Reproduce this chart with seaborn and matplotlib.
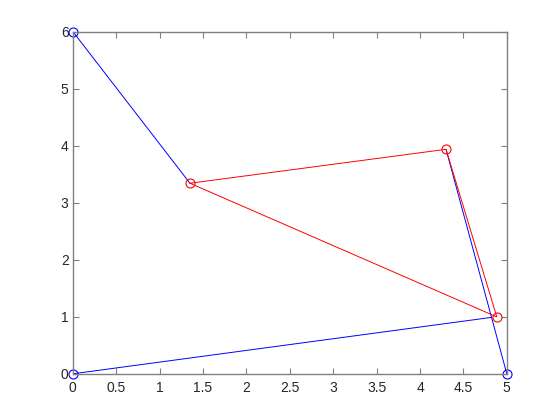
import matplotlib
matplotlib.use('Agg')
import matplotlib.pyplot as plt
import seaborn as sns
import pandas as pd

# Blue segments (x list, y list) and blue circle points
blue_segments = [
    ([0.0, 1.35], [6.0, 3.34]),
    ([4.30, 5.0], [3.935, 0.0]),
    ([0.0, 4.83], [0.0, 0.99]),
]
blue_pts_x = [0.0, 0.0, 5.0]
blue_pts_y = [6.0, 0.0, 0.0]

# Red triangle
red_x = [1.35, 4.30, 4.885, 1.35]
red_y = [3.34, 3.935, 0.997, 3.34]
red_pts_x = [1.35, 4.30, 4.885]
red_pts_y = [3.34, 3.935, 0.997]

sns.set_style('white')
plt.rcParams['font.family'] = ['Liberation Sans', 'DejaVu Sans']

fig = plt.figure(figsize=(5.6, 4.2), dpi=100)
ax = fig.add_axes([0.13, 0.11, 0.775, 0.815])

for sx, sy in blue_segments:
    seg = pd.DataFrame({'x': sx, 'y': sy})
    sns.lineplot(data=seg, x='x', y='y', sort=False, estimator=None,
                 color='blue', linewidth=0.7, ax=ax)

tri = pd.DataFrame({'x': red_x, 'y': red_y})
sns.lineplot(data=tri, x='x', y='y', sort=False, estimator=None,
             color='red', linewidth=0.7, ax=ax)

ax.plot(blue_pts_x, blue_pts_y, 'o', mfc='none', mec='blue', ms=6.5, mew=0.8, clip_on=False)
ax.plot(red_pts_x, red_pts_y, 'o', mfc='none', mec='red', ms=6.5, mew=0.8, clip_on=False)

ax.set_xlim(0, 5)
ax.set_ylim(0, 6)
ax.set_xticks([0, 0.5, 1, 1.5, 2, 2.5, 3, 3.5, 4, 4.5, 5])
ax.set_xticklabels(['0', '0.5', '1', '1.5', '2', '2.5', '3', '3.5', '4', '4.5', '5'])
ax.set_yticks(range(7))
ax.set_xlabel('')
ax.set_ylabel('')

for s in ax.spines.values():
    s.set_color('#808080')
    s.set_linewidth(1.0)
    s.set_visible(True)
ax.tick_params(direction='in', length=4, width=0.8, color='#808080',
               labelsize=10, labelcolor='#262626', top=True, right=True,
               bottom=True, left=True)
ax.tick_params(axis='x', pad=5)
ax.tick_params(axis='y', pad=3)

fig.savefig('out.png', dpi=100)
